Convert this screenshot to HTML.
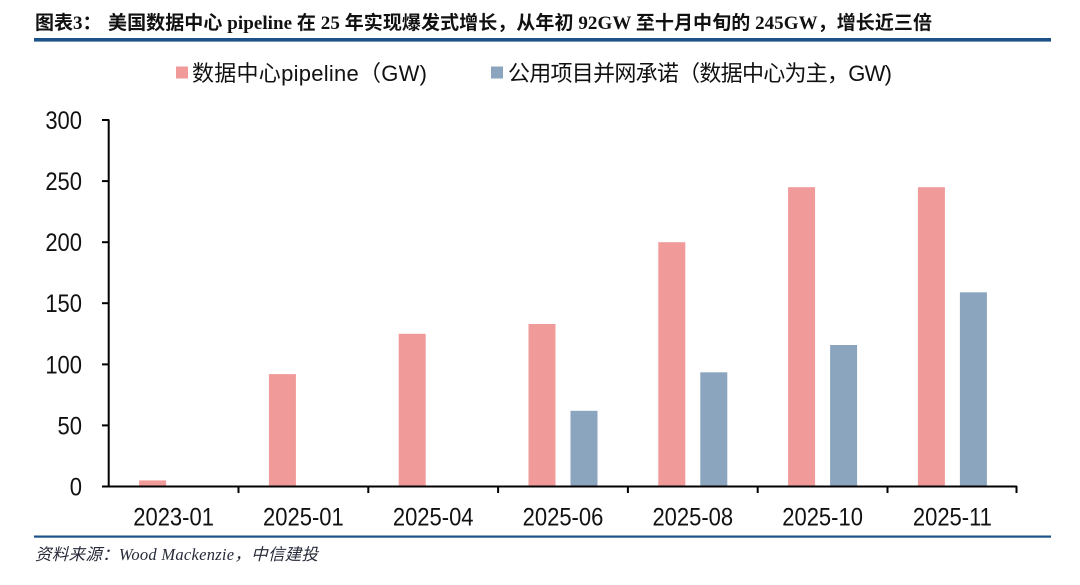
<!DOCTYPE html>
<html>
<head>
<meta charset="utf-8">
<style>
  html,body{margin:0;padding:0;background:#fff;}
  svg{display:block;}
  .t{font-family:"Liberation Serif","Noto Sans CJK SC",serif;font-weight:bold;font-size:19px;fill:#111;}
  .lg{font-family:"Liberation Sans","Noto Sans CJK SC",sans-serif;font-size:22px;fill:#111;}
  .tk{font-family:"Liberation Sans","Noto Sans CJK SC",sans-serif;font-size:22px;fill:#111;}
  .ft{font-family:"Liberation Serif","Noto Sans CJK SC",serif;font-style:italic;font-size:16.5px;fill:#262a38;}
</style>
</head>
<body>
<svg width="1080" height="585" viewBox="0 0 1080 585" xmlns="http://www.w3.org/2000/svg">
  <rect width="1080" height="585" fill="#fff"/>
  <!-- Title -->
  <text class="t" x="35" y="29">图表3：</text>
  <text class="t" x="108" y="29" textLength="824" lengthAdjust="spacing">美国数据中心 pipeline 在 25 年实现爆发式增长，从年初 92GW 至十月中旬的 245GW，增长近三倍</text>
  <rect x="34" y="38" width="1017" height="3.6" fill="#1b5288"/>

  <!-- Legend -->
  <rect x="176" y="66.5" width="12" height="12" fill="#f09a9a"/>
  <text class="lg" x="192" y="81" textLength="235" lengthAdjust="spacing">数据中心pipeline（GW)</text>
  <rect x="491" y="66.5" width="12" height="12" fill="#8aa5bd"/>
  <text class="lg" x="508" y="81" textLength="384" lengthAdjust="spacing">公用项目并网承诺（数据中心为主，GW)</text>

  <!-- Bars: pink -->
  <g fill="#f09a9a">
    <rect x="139.1" y="480.4" width="27" height="6.1"/>
    <rect x="268.9" y="374.1" width="27" height="112.4"/>
    <rect x="398.7" y="333.8" width="27" height="152.7"/>
    <rect x="528.5" y="324.0" width="27" height="162.5"/>
    <rect x="658.3" y="242.2" width="27" height="244.3"/>
    <rect x="788.1" y="187.2" width="27" height="299.3"/>
    <rect x="917.9" y="187.2" width="27" height="299.3"/>
  </g>
  <!-- Bars: blue -->
  <g fill="#8aa5bd">
    <rect x="570.5" y="410.8" width="27" height="75.7"/>
    <rect x="700.3" y="372.3" width="27" height="114.2"/>
    <rect x="830.1" y="345.0" width="27" height="141.5"/>
    <rect x="959.9" y="292.3" width="27" height="194.2"/>
  </g>

  <!-- Axes -->
  <g stroke="#000" stroke-width="2" fill="none">
    <line x1="108.7" y1="119.5" x2="108.7" y2="487.5"/>
    <line x1="102" y1="120" x2="109" y2="120"/>
    <line x1="102" y1="181.1" x2="109" y2="181.1"/>
    <line x1="102" y1="242.2" x2="109" y2="242.2"/>
    <line x1="102" y1="303.2" x2="109" y2="303.2"/>
    <line x1="102" y1="364.4" x2="109" y2="364.4"/>
    <line x1="102" y1="425.4" x2="109" y2="425.4"/>
    <line x1="102" y1="486.5" x2="109" y2="486.5"/>
    <line x1="107.7" y1="486.5" x2="1017" y2="486.5"/>
    <line x1="238.5" y1="486" x2="238.5" y2="493"/>
    <line x1="368.3" y1="486" x2="368.3" y2="493"/>
    <line x1="498.1" y1="486" x2="498.1" y2="493"/>
    <line x1="627.9" y1="486" x2="627.9" y2="493"/>
    <line x1="757.7" y1="486" x2="757.7" y2="493"/>
    <line x1="887.5" y1="486" x2="887.5" y2="493"/>
    <line x1="1016.5" y1="486" x2="1016.5" y2="493"/>
  </g>

  <!-- Y tick labels -->
  <g class="tk" text-anchor="end">
    <text transform="translate(82,129) scale(1,1.15)">300</text>
    <text transform="translate(82,190.1) scale(1,1.15)">250</text>
    <text transform="translate(82,251.2) scale(1,1.15)">200</text>
    <text transform="translate(82,312.2) scale(1,1.15)">150</text>
    <text transform="translate(82,373.4) scale(1,1.15)">100</text>
    <text transform="translate(82,434.4) scale(1,1.15)">50</text>
    <text transform="translate(82,495.5) scale(1,1.15)">0</text>
  </g>

  <!-- X tick labels -->
  <g class="tk" text-anchor="middle">
    <text transform="translate(173.6,525.5) scale(1,1.15)">2023-01</text>
    <text transform="translate(303.4,525.5) scale(1,1.15)">2025-01</text>
    <text transform="translate(433.2,525.5) scale(1,1.15)">2025-04</text>
    <text transform="translate(563,525.5) scale(1,1.15)">2025-06</text>
    <text transform="translate(692.8,525.5) scale(1,1.15)">2025-08</text>
    <text transform="translate(822.6,525.5) scale(1,1.15)">2025-10</text>
    <text transform="translate(952.4,525.5) scale(1,1.15)">2025-11</text>
  </g>

  <!-- Footer -->
  <rect x="34" y="535.5" width="1017" height="2.2" fill="#1b5288"/>
  <text class="ft" x="35" y="560" textLength="283" lengthAdjust="spacing">资料来源：Wood Mackenzie，中信建投</text>
</svg>
</body>
</html>
